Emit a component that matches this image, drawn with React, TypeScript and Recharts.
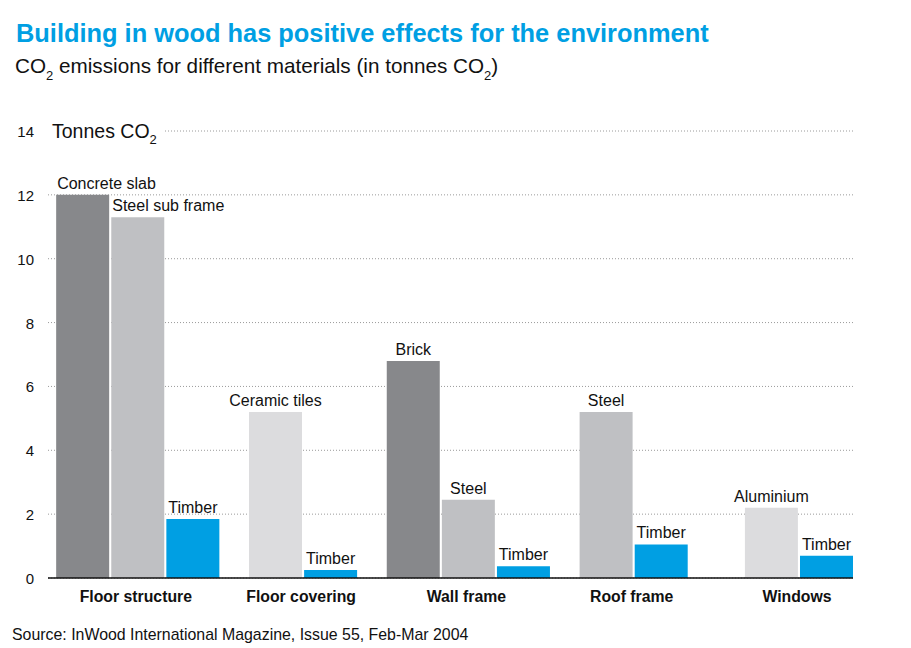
import { BarChart, Bar, XAxis, YAxis, CartesianGrid, Cell, LabelList } from 'recharts';

const groups = ['Floor structure', 'Floor covering', 'Wall frame', 'Roof frame', 'Windows'];
const materials = [
  ['Concrete slab', 'Steel sub frame', 'Timber'],
  ['Ceramic tiles', 'Timber'],
  ['Brick', 'Steel', 'Timber'],
  ['Steel', 'Timber'],
  ['Aluminium', 'Timber'],
];
const tonnes = [
  [12, 11.3, 1.85],
  [5.2, 0.25],
  [6.8, 2.45, 0.37],
  [5.2, 1.05],
  [2.2, 0.7],
];
const yTicks = [0, 2, 4, 6, 8, 10, 12, 14];

const font = "'Liberation Sans', Arial, Helvetica, sans-serif";

const materialColor: Record<string, string> = {
  'Concrete slab': '#87888b',
  Brick: '#87888b',
  'Steel sub frame': '#bfc0c3',
  Steel: '#bfc0c3',
  'Ceramic tiles': '#dcdcde',
  Aluminium: '#dcdcde',
  Timber: '#009fe3',
};
// the two tall floor-structure labels sit flush with the bar's left edge
const leftLabels = ['Concrete slab', 'Steel sub frame'];

// each group gets 3 slots on a numeric axis, bars centred on the middle slot
const rows = groups.flatMap((g, gi) =>
  materials[gi].map((m, j) => ({
    group: g,
    material: m,
    value: tonnes[gi][j],
    slot: gi * 3 + 1 + j - (materials[gi].length - 1) / 2,
  })),
);
const groupTicks = groups.map((_, gi) => gi * 3 + 1);

function GroupTick(props: any) {
  const { x, y, payload } = props;
  const name = groups[groupTicks.indexOf(payload.value)];
  return (
    <text x={x - 2} y={y + 24} textAnchor="middle" fill="#111" style={{ fontFamily: font, fontSize: 15.8, fontWeight: 700 }}>
      {name}
    </text>
  );
}

function ValueTick(props: any) {
  const { x, y, payload } = props;
  return (
    <text x={x - 14} y={y + 6} textAnchor="end" fill="#111" style={{ fontFamily: font, fontSize: 15 }}>
      {payload.value}
    </text>
  );
}

function BarLabel(props: any) {
  const { x, y, width, value } = props;
  const left = leftLabels.includes(value);
  return (
    <text
      x={left ? x + 1 : x + width / 2}
      y={y - 6}
      textAnchor={left ? 'start' : 'middle'}
      fill="#111"
      style={{ fontFamily: font, fontSize: 16 }}
    >
      {value}
    </text>
  );
}

export default function App() {
  return (
    <div style={{ position: 'absolute', left: 0, top: 0, width: 911, height: 648, background: '#fff' }}>
      <div style={{ position: 'absolute', left: 0, top: 0 }}>
        <BarChart width={911} height={648} data={rows} margin={{ top: 131, right: 58, bottom: 0, left: 0 }}>
          <CartesianGrid vertical={false} stroke="#9a9a9a" strokeDasharray="1 2" />
          <XAxis
            dataKey="slot"
            type="number"
            domain={[-0.63, 13.98]}
            allowDataOverflow
            ticks={groupTicks}
            interval={0}
            height={70}
            tickSize={0}
            tickMargin={0}
            tickLine={false}
            axisLine={{ stroke: '#111', strokeWidth: 1.6 }}
            tick={<GroupTick />}
          />
          <YAxis
            type="number"
            domain={[0, 14]}
            ticks={yTicks}
            width={48}
            tickSize={0}
            tickMargin={0}
            tickLine={false}
            axisLine={false}
            tick={<ValueTick />}
          />
          <Bar dataKey="value" barSize={53} isAnimationActive={false}>
            {rows.map((r, i) => (
              <Cell key={i} fill={materialColor[r.material]} />
            ))}
            <LabelList dataKey="material" content={<BarLabel />} />
          </Bar>
        </BarChart>
      </div>
      <svg width={911} height={648} style={{ position: 'absolute', left: 0, top: 0, pointerEvents: 'none' }}>
        <text x={16} y={42} fill="#009fe3" style={{ fontFamily: font, fontSize: 25.4, fontWeight: 700 }}>
          Building in wood has positive effects for the environment
        </text>
        <text x={15} y={73} fill="#111" style={{ fontFamily: font, fontSize: 20.7 }}>
          CO<tspan dy={7} fontSize={13}>2</tspan>
          <tspan dy={-7}> emissions for different materials (in tonnes CO</tspan>
          <tspan dy={7} fontSize={13}>2</tspan>
          <tspan dy={-7}>)</tspan>
        </text>
        <rect x={46} y={116} width={119} height={32} fill="#fff" />
        <text x={52} y={138} fill="#111" style={{ fontFamily: font, fontSize: 19.5 }}>
          Tonnes CO<tspan dy={6} fontSize={13}>2</tspan>
        </text>
        <text x={12} y={640} fill="#111" style={{ fontFamily: font, fontSize: 15.9 }}>
          Source: InWood International Magazine, Issue 55, Feb-Mar 2004
        </text>
      </svg>
    </div>
  );
}
